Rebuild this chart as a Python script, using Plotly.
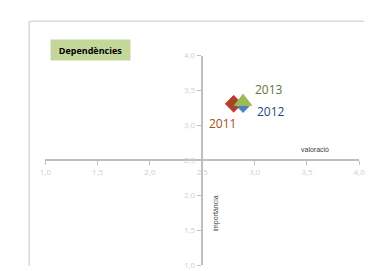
import plotly.graph_objects as go

years = ["2011", "2012", "2013"]
valoracio = [2.80, 2.89, 2.89]
importancia = [3.31, 3.27, 3.34]
symbols = ["diamond", "diamond", "triangle-up"]
marker_sizes = [13, 9, 15]
fill_colors = ["#a5432b", "#4f81bd", "#9bbb59"]
line_colors = ["#e0453d", "#4f81bd", "#9bbb59"]
label_colors = ["#a3501a", "#1f497d", "#5f7530"]
label_shift_x = [-11, 28, 26]
label_shift_y = [-20, -5, 12]

x_ticks = [1.0, 1.5, 2.0, 2.5, 3.0, 3.5, 4.0]
y_ticks = [1.0, 1.5, 2.0, 2.5, 3.0, 3.5, 4.0]

W, H = 370, 271
fig = go.Figure()
for i in range(3):
    fig.add_trace(go.Scatter(
        x=[valoracio[i]], y=[importancia[i]], mode="markers", name=years[i],
        marker=dict(symbol=symbols[i], size=marker_sizes[i], color=fill_colors[i],
                    line=dict(color=line_colors[i], width=1)),
        showlegend=False, hoverinfo="skip"))

for i in range(3):
    fig.add_annotation(x=valoracio[i], y=importancia[i], xref="x", yref="y",
                       text=years[i], showarrow=False,
                       xshift=label_shift_x[i], yshift=label_shift_y[i],
                       font=dict(family="Open Sans, Liberation Sans", size=12, color=label_colors[i]))

axis_common = dict(showgrid=False, zeroline=False, showline=True, linecolor="#bfbfbf",
                   linewidth=2, ticks="outside", ticklen=4, tickcolor="#bfbfbf", tickwidth=1,
                   tickvals=x_ticks, tickformat=".1f", ticklabeloverflow="allow",
                   tickfont=dict(family="Open Sans, Liberation Sans", size=8, color="#d0d0d0"),
                   range=[1, 4], fixedrange=True)

fig.update_layout(
    autosize=True, margin=dict(l=0, r=0, t=0, b=0),
    paper_bgcolor="white", plot_bgcolor="rgba(0,0,0,0)",
    separators=",.",
    xaxis=dict(axis_common, domain=[40.7 / W, 365 / W], anchor="free",
               position=(H - 160.7) / H),
    yaxis=dict(axis_common, tickvals=y_ticks, domain=[(H - 270) / H, (H - 51.7) / H],
               anchor="free", position=202.3 / W),
)

# chart frame (left and top edges; the rest lies outside the window)
fig.add_shape(type="line", xref="paper", yref="paper",
              x0=24 / W, x1=24 / W, y0=0, y1=(H - 16) / H,
              line=dict(color="#d9d9d9", width=1.5), layer="below")
fig.add_shape(type="line", xref="paper", yref="paper",
              x0=24 / W, x1=1, y0=(H - 16) / H, y1=(H - 16) / H,
              line=dict(color="#d9d9d9", width=1.5), layer="below")

fig.add_annotation(xref="paper", yref="paper", x=45 / W, y=(H - 34) / H,
                   xanchor="left", yanchor="top", text="<b>Dependències</b>",
                   showarrow=False, bgcolor="#c4d79b", width=77, height=18,
                   font=dict(family="Open Sans, Liberation Sans", size=9, color="#000000"))

fig.add_annotation(xref="paper", yref="paper", x=336 / W, y=(H - 150) / H,
                   text="valoració", showarrow=False,
                   font=dict(family="Liberation Sans", size=7, color="#404040"))
fig.add_annotation(xref="paper", yref="paper", x=217.5 / W, y=(H - 236.7) / H,
                   text="importància", showarrow=False, textangle=-90,
                   font=dict(family="Liberation Sans", size=7, color="#404040"))

fig.write_html("out.html", config={"displayModeBar": False, "responsive": True},
               default_width="100vw", default_height="100vh",
               post_script="document.documentElement.style.margin='0';"
                           "document.body.style.margin='0';"
                           "document.documentElement.style.overflow='hidden';"
                           "document.body.style.overflow='hidden';")
